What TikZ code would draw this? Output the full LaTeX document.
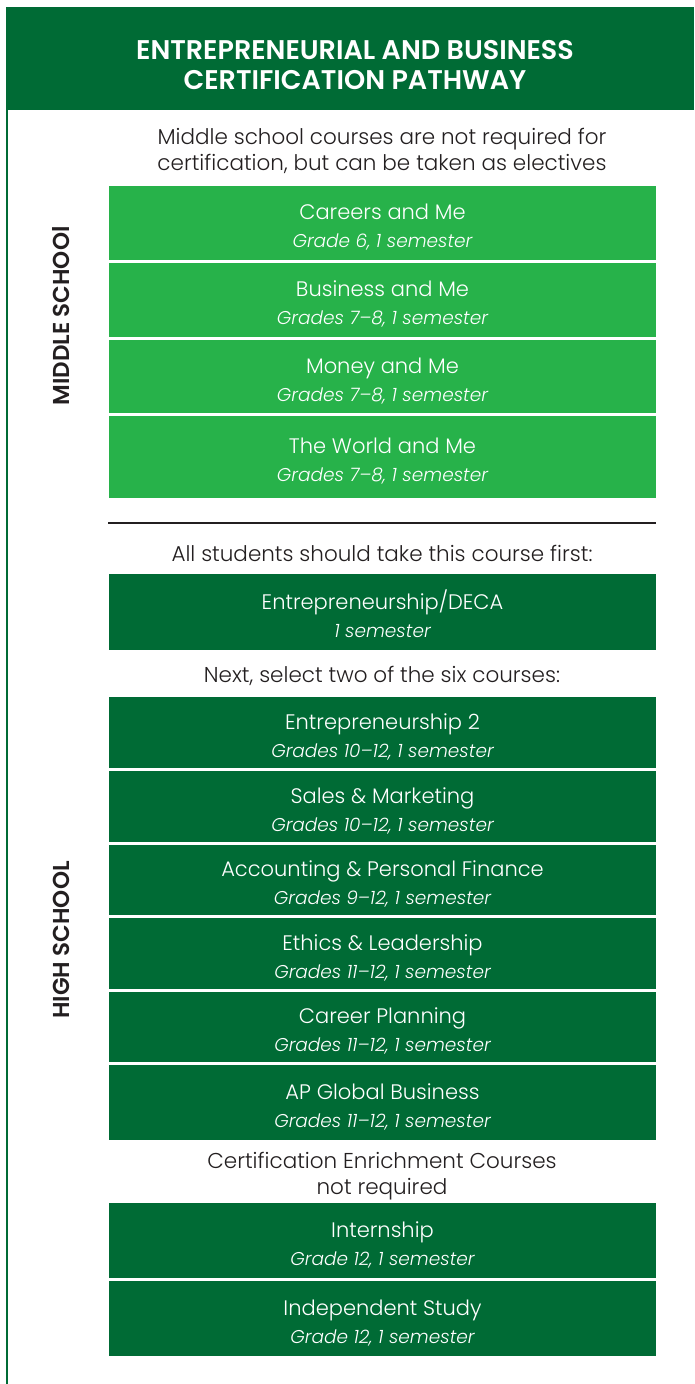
\documentclass[tikz,border=0pt]{standalone}
\usepackage{fontspec}
\setmainfont{Poppins}[UprightFont={* Light}, ItalicFont={* Light Italic}, BoldFont={* SemiBold}, BoldItalicFont={* SemiBold Italic}]
\definecolor{dkgreen}{HTML}{006B35}
\definecolor{ltgreen}{HTML}{27B24A}
\definecolor{txt}{HTML}{231F20}
\tikzset{
  course/.style={minimum width=547pt, inner sep=0pt, align=center, text=white,
    font=\fontsize{21}{28}\selectfont},
  light/.style={course, fill=ltgreen},
  dark/.style={course, fill=dkgreen},
  intro/.style={align=center, text=txt, inner sep=0pt, font=\fontsize{21.5}{26}\selectfont},
  side/.style={rotate=90, text=txt, inner sep=0pt, font=\bfseries\fontsize{23}{24}\selectfont},
}
\newcommand{\sub}[1]{{\fontsize{18.5}{20}\selectfont\itshape #1}}
\newcommand{\tp}{\rule{0pt}{24pt}}
\begin{document}
\begin{tikzpicture}[x=1pt,y=-1pt]
\useasboundingbox (0,0) rectangle (694,1384);
\fill[white] (0,0) rectangle (694,1384);
\node[fill=dkgreen, minimum width=688pt, minimum height=103pt, inner sep=0pt, anchor=north west] (header) at (6,7) {};
\node[text=white, align=center, inner sep=0pt, font=\bfseries\fontsize{27}{30}\selectfont] (title) at (355,65) {ENTREPRENEURIAL AND BUSINESS\\CERTIFICATION PATHWAY};
\coordinate (lt) at (7,110);
\coordinate (lb) at (7,1384);
\draw[dkgreen, line width=2pt] (lt) -- (lb);

\node[intro] (i1) at (382,151) {Middle school courses are not required for\\certification, but can be taken as electives};
\node[light, minimum height=74pt] (m1) at (382.5,223) {\tp Careers and Me\\\sub{Grade 6, 1 semester}};
\node[light, minimum height=74pt] (m2) at (382.5,300) {\tp Business and Me\\\sub{Grades 7–8, 1 semester}};
\node[light, minimum height=73pt] (m3) at (382.5,376.5) {\tp Money and Me\\\sub{Grades 7–8, 1 semester}};
\node[light, minimum height=82pt] (m4) at (382.5,457) {\tp The World and Me\\\sub{Grades 7–8, 1 semester}};
\node[side] (ms) at (61,316) {MIDDLE SCHOOl};

\coordinate (sepl) at (108,523);
\coordinate (sepr) at (656,523);
\draw[txt, line width=2.5pt] (sepl) -- (sepr);

\node[intro] (i2) at (382,553) {All students should take this course first:};
\node[dark, minimum height=76pt] (d0) at (382.5,612) {\tp Entrepreneurship/DECA\\\sub{1 semester}};
\node[intro] (i3) at (382,676) {Next, select two of the six courses:};
\node[dark, minimum height=71pt] (d1) at (382.5,732.5) {\tp Entrepreneurship 2\\\sub{Grades 10–12, 1 semester}};
\node[dark, minimum height=71pt] (d2) at (382.5,806.5) {\tp Sales \& Marketing\\\sub{Grades 10–12, 1 semester}};
\node[dark, minimum height=70pt] (d3) at (382.5,880) {\tp Accounting \& Personal Finance\\\sub{Grades 9–12, 1 semester}};
\node[dark, minimum height=71pt] (d4) at (382.5,953.5) {\tp Ethics \& Leadership\\\sub{Grades 11–12, 1 semester}};
\node[dark, minimum height=70pt] (d5) at (382.5,1027) {\tp Career Planning\\\sub{Grades 11–12, 1 semester}};
\node[dark, minimum height=75pt] (d6) at (382.5,1102.5) {\tp AP Global Business\\\sub{Grades 11–12, 1 semester}};
\node[intro] (i4) at (382,1176) {Certification Enrichment Courses\\not required};
\node[dark, minimum height=75pt] (e1) at (382.5,1240.5) {\tp Internship\\\sub{Grade 12, 1 semester}};
\node[dark, minimum height=75pt] (e2) at (382.5,1318.5) {\tp Independent Study\\\sub{Grade 12, 1 semester}};
\node[side] (hs) at (61,940) {HIGH SCHOOL};
\end{tikzpicture}
\end{document}
